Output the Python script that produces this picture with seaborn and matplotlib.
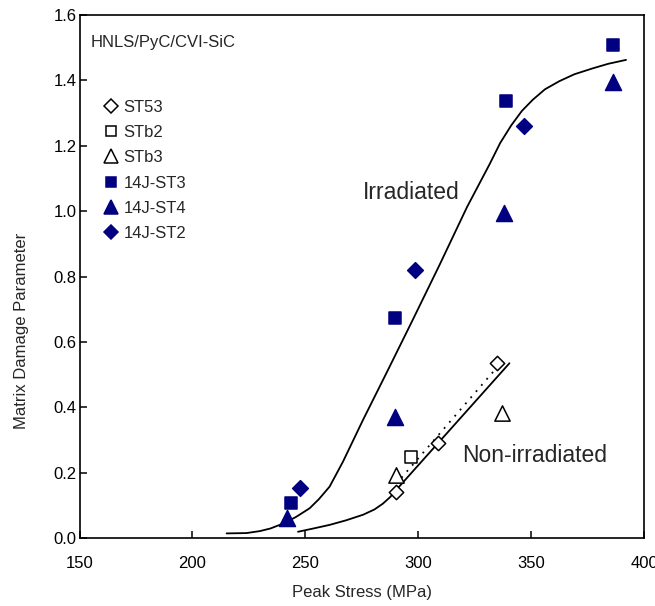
import numpy as np
import pandas as pd
import matplotlib
matplotlib.use("Agg")
import matplotlib.pyplot as plt
from matplotlib.lines import Line2D
import seaborn as sns

# --- measured points: peak stress (MPa) vs. matrix damage parameter ---
st53_x = [289.9, 308.6, 334.9]
st53_y = [0.142, 0.290, 0.536]
stb2_x = [296.6]
stb2_y = [0.249]
stb3_x = [289.9, 336.9]
stb3_y = [0.194, 0.384]
j14_st3_x = [243.5, 289.5, 338.6, 386.3]
j14_st3_y = [0.109, 0.674, 1.336, 1.509]
j14_st4_x = [242.0, 289.8, 338.1, 386.0]
j14_st4_y = [0.062, 0.372, 0.993, 1.394]
j14_st2_x = [247.8, 298.3, 346.6]
j14_st2_y = [0.155, 0.820, 1.261]

# --- trend curves ---
irr_x = [215.1, 223.9, 229.8, 234.5, 238.6, 242.5, 246.0, 251.9, 256.0, 260.7,
         266.6, 275.5, 286.5, 297.6, 309.4, 321.5, 331.5, 336.2, 341.1, 345.8,
         350.6, 356.0, 362.4, 369.0, 377.1, 384.0, 391.9]
irr_y = [0.015, 0.016, 0.022, 0.030, 0.041, 0.053, 0.066, 0.092, 0.120, 0.158,
         0.234, 0.362, 0.514, 0.669, 0.836, 1.012, 1.143, 1.208, 1.262, 1.306,
         1.340, 1.372, 1.397, 1.418, 1.436, 1.450, 1.462]
non_x = [246.7, 253.5, 260.7, 268.0, 275.5, 280.5, 284.3, 287.5, 290.2, 340.3]
non_y = [0.020, 0.030, 0.041, 0.055, 0.072, 0.088, 0.106, 0.126, 0.148, 0.535]
fit_x = [292.5, 334.5]
fit_y = [0.185, 0.520]

x_ticks = [150, 200, 250, 300, 350, 400]
y_ticks = [0.0, 0.2, 0.4, 0.6, 0.8, 1.0, 1.2, 1.4, 1.6]

sns.set_theme(style="ticks")
plt.rcParams["font.family"] = ["Liberation Sans", "DejaVu Sans"]

NAVY = "#000080"

fig = plt.figure(figsize=(6.55, 6.06), dpi=100)
ax = fig.add_axes([0.1214, 0.1117, 0.8623, 0.8640])

# curves
sns.lineplot(x=irr_x, y=irr_y, ax=ax, color="black", lw=1.3, sort=False, estimator=None)
sns.lineplot(x=non_x, y=non_y, ax=ax, color="black", lw=1.3, sort=False, estimator=None)
sns.lineplot(x=fit_x, y=fit_y, ax=ax, color="black", lw=1.3, sort=False, estimator=None,
             linestyle=(0, (1, 3.5)))

series = [
    ("ST53", st53_x, st53_y, "D", 7.3, "white", "black"),
    ("STb2", stb2_x, stb2_y, "s", 8.2, "white", "black"),
    ("STb3", stb3_x, stb3_y, "^", 11.0, "white", "black"),
    ("14J-ST3", j14_st3_x, j14_st3_y, "s", 8.4, NAVY, NAVY),
    ("14J-ST4", j14_st4_x, j14_st4_y, "^", 11.5, NAVY, NAVY),
    ("14J-ST2", j14_st2_x, j14_st2_y, "D", 8.0, NAVY, NAVY),
]

handles = []
for name, xs, ys, mk, ms, fc, ec in series:
    df = pd.DataFrame({"stress": xs, "damage": ys})
    sns.scatterplot(data=df, x="stress", y="damage", ax=ax, marker=mk, s=ms ** 2,
                    color=fc, edgecolor=ec, linewidth=1.1, zorder=5, legend=False)
    lms = {"D": 6.8, "s": 7.8, "^": 9.5}[mk]
    handles.append(Line2D([], [], linestyle="none", marker=mk, markersize=lms,
                          markerfacecolor=fc, markeredgecolor=ec, markeredgewidth=1.1,
                          label=name))

ax.legend(handles=handles, loc="upper left", bbox_to_anchor=(0.041, 0.838),
          frameon=False, fontsize=12, handlelength=1.0, handletextpad=0.25,
          labelspacing=0.62, borderpad=0, borderaxespad=0)

ax.text(0.0198, 0.961, "HNLS/PyC/CVI-SiC", transform=ax.transAxes, fontsize=12,
        ha="left", va="top")
ax.text(275.3, 1.058, "Irradiated", fontsize=16.5, ha="left", va="center")
ax.text(319.4, 0.252, "Non-irradiated", fontsize=16.5, ha="left", va="center")

ax.set_xlim(150, 400)
ax.set_ylim(0, 1.6)
ax.set_xticks(x_ticks)
ax.set_yticks(y_ticks)
ax.set_xticklabels([str(v) for v in x_ticks])
ax.set_yticklabels([f"{v:.1f}" for v in y_ticks])
ax.tick_params(axis="both", direction="in", length=5, width=1.1, labelsize=12,
               color="black", labelcolor="black")
ax.tick_params(axis="x", pad=13)
ax.tick_params(axis="y", pad=2)
for sp in ax.spines.values():
    sp.set_visible(True)
    sp.set_color("black")
    sp.set_linewidth(1.2)

ax.set_xlabel("Peak Stress (MPa)", fontsize=12, labelpad=10)
ax.set_ylabel("Matrix Damage Parameter", fontsize=12)
ax.yaxis.set_label_coords(-0.09, 0.396)

fig.savefig("out.png", dpi=100, facecolor="white")
